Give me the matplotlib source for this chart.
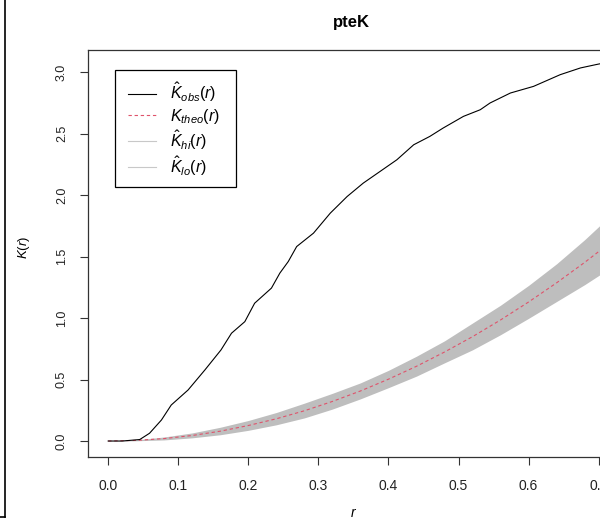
import matplotlib
matplotlib.use("Agg")
import matplotlib.pyplot as plt
from matplotlib.lines import Line2D
from matplotlib.patches import Rectangle

plt.rcParams['font.family'] = ['Liberation Sans', 'DejaVu Sans']
plt.rcParams['mathtext.fontset'] = 'custom'
plt.rcParams['mathtext.rm'] = 'Liberation Sans'
plt.rcParams['mathtext.it'] = 'Liberation Sans:italic'

r_obs = [0.0, 0.02, 0.045, 0.059, 0.076, 0.090, 0.114, 0.138, 0.161, 0.176, 0.195,
         0.209, 0.233, 0.245, 0.257, 0.269, 0.293, 0.317, 0.341, 0.364, 0.388,
         0.412, 0.436, 0.459, 0.478, 0.507, 0.531, 0.545, 0.574, 0.607, 0.645,
         0.674, 0.696, 0.720]
k_obs = [0.0, 0.0, 0.012, 0.063, 0.171, 0.293, 0.415, 0.578, 0.741, 0.877, 0.971,
         1.121, 1.244, 1.366, 1.460, 1.582, 1.691, 1.854, 1.989, 2.098, 2.193,
         2.288, 2.410, 2.478, 2.546, 2.641, 2.695, 2.750, 2.831, 2.885, 2.980,
         3.035, 3.062, 3.090]

# theoretical K and simulation envelope
r_env = [0.0, 0.04, 0.08, 0.12, 0.16, 0.20, 0.24, 0.28, 0.32, 0.36, 0.40,
         0.44, 0.48, 0.52, 0.56, 0.60, 0.64, 0.68, 0.72]
k_theo = [0.0, 0.005, 0.020, 0.045, 0.080, 0.126, 0.181, 0.246, 0.322, 0.407, 0.503,
          0.608, 0.724, 0.849, 0.985, 1.131, 1.287, 1.453, 1.629]
k_hi = [0.0, 0.009, 0.033, 0.066, 0.112, 0.167, 0.232, 0.308, 0.388, 0.473, 0.575,
        0.690, 0.815, 0.960, 1.105, 1.266, 1.442, 1.638, 1.850]
k_lo = [0.0, 0.002, 0.009, 0.026, 0.051, 0.087, 0.132, 0.188, 0.260, 0.343, 0.434,
        0.528, 0.636, 0.742, 0.865, 0.998, 1.135, 1.272, 1.420]

xticks = [0.0, 0.1, 0.2, 0.3, 0.4, 0.5, 0.6, 0.7]
yticks = [0.0, 0.5, 1.0, 1.5, 2.0, 2.5, 3.0]

fig = plt.figure(figsize=(6.0, 5.21), dpi=100)
ax = fig.add_axes([88/600, 1 - 457/521, 545/600, 407/521])

ax.fill_between(r_env, k_lo, k_hi, color='#BEBEBE', lw=0)
ax.plot(r_env, k_theo, color='#DF536B', lw=0.8, dashes=(3, 2.5))
ax.plot(r_obs, k_obs, color='black', lw=0.8)

ax.set_xlim(-0.0288, 0.749)
ax.set_ylim(-0.130, 3.181)
ax.set_xticks(xticks)
ax.set_xticklabels([f'{v:.1f}' for v in xticks])
ax.set_yticks(yticks)
ax.set_yticklabels([f'{v:.1f}' for v in yticks], rotation=90, va='center')
ax.tick_params(axis='both', direction='out', length=5.5, width=0.8,
               color='#333333', labelcolor='#222222')
ax.tick_params(axis='x', pad=10, labelsize=10)
ax.tick_params(axis='y', pad=9, labelsize=9)
for s in ax.spines.values():
    s.set_linewidth(0.9)
    s.set_color('#333333')

handles = [Line2D([], [], color='black', lw=0.8),
           Line2D([], [], color='#DF536B', lw=0.8, dashes=(3, 2.5)),
           Line2D([], [], color='#C8C8C8', lw=0.8),
           Line2D([], [], color='#C8C8C8', lw=0.8)]
labels = [r'$\hat{K}_{obs}(r)$', r'$K_{theo}(r)$', r'$\hat{K}_{hi}(r)$', r'$\hat{K}_{lo}(r)$']
leg = ax.legend(handles, labels, loc='upper left',
                bbox_to_anchor=(128/600, 1 - 81/521), bbox_transform=fig.transFigure,
                borderaxespad=0, frameon=False, borderpad=0,
                fontsize=11.5, handlelength=1.75, handletextpad=0.85,
                labelspacing=0.15)
# legend box
fig.add_artist(Rectangle((115/600, 1 - 187/521), 121/600, 117/521,
                         transform=fig.transFigure, fill=False,
                         edgecolor='black', lw=0.9))

fig.text(351/600, 1 - 23/521, 'pteK', ha='center', va='center',
         fontsize=12, fontweight='bold')
fig.text(353/600, 1 - 513/521, 'r', ha='center', va='center',
         fontsize=10, style='italic')
fig.text(24/600, 1 - 247/521, r'$K(r)$', ha='center', va='center',
         fontsize=9.5, rotation=90)

# screenshot frame edge
fig.add_artist(Line2D([5/600, 5/600], [1, 1 - 517/521], color='black', lw=1.2))
fig.add_artist(Line2D([0, 5/600], [1 - 517/521, 1 - 517/521], color='black', lw=1.2))

fig.savefig('out.png', dpi=100)
